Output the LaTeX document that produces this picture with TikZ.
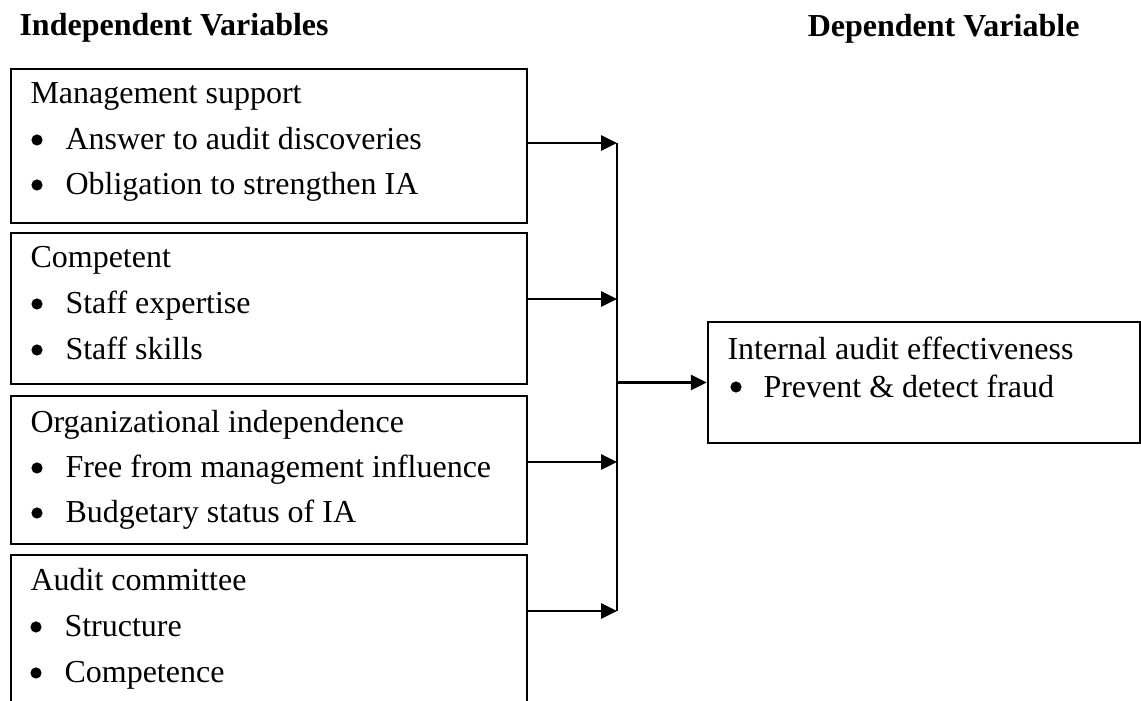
\documentclass[tikz,border=0pt]{standalone}
\usepackage{fontspec}
\setmainfont{Liberation Serif}
\usetikzlibrary{arrows.meta,fit}
\begin{document}
\begin{tikzpicture}[x=0.375pt,y=-0.375pt,
  box/.style={draw, line width=0.9pt, inner sep=0pt},
  txt/.style={anchor=base west, inner sep=0pt, font=\fontsize{12}{14}\selectfont},
  ttl/.style={inner sep=0pt, font=\fontsize{12}{14}\selectfont\bfseries},
  bul/.style={circle, fill, inner sep=0pt, minimum size=4.2pt},
  arr/.style={line width=1.1pt, -{Triangle[length=6pt,width=5.6pt]}},
  busline/.style={line width=1.1pt}]
\useasboundingbox (0,0) rectangle (1141,701);
\clip (0,0) rectangle (1141,701);
% titles
\node[ttl, anchor=base west] (tind) at (19,36) {Independent Variables};
\node[ttl, anchor=base east] (tdep) at (1080,37) {Dependent Variable};
% boxes
\node[box, fit={(11,69)(527,223)}] (b1) {};
\node[box, fit={(11,233)(527,384)}] (b2) {};
\node[box, fit={(11,396)(527,544)}] (b3) {};
\node[box, fit={(11,555)(527,730)}] (b4) {};
\node[box, fit={(708,322)(1140,443)}] (dv) {};
% box texts
\node[txt] (b1t) at (30,104) {Management support};
\node[bul] (b1a) at (37,140) {};
\node[txt] (b1at) at (65,150) {Answer to audit discoveries};
\node[bul] (b1b) at (37,185) {};
\node[txt] (b1bt) at (65,195) {Obligation to strengthen IA};
\node[txt] (b2t) at (30,268) {Competent};
\node[bul] (b2a) at (37,304) {};
\node[txt] (b2at) at (65,314) {Staff expertise};
\node[bul] (b2b) at (37,350) {};
\node[txt] (b2bt) at (65,360) {Staff skills};
\node[txt] (b3t) at (30,433) {Organizational independence};
\node[bul] (b3a) at (37,468) {};
\node[txt] (b3at) at (65,478) {Free from management influence};
\node[bul] (b3b) at (37,513) {};
\node[txt] (b3bt) at (65,523) {Budgetary status of IA};
\node[txt] (b4t) at (30,591) {Audit committee};
\node[bul] (b4a) at (36,627) {};
\node[txt] (b4at) at (64,637) {Structure};
\node[bul] (b4b) at (36,673) {};
\node[txt] (b4bt) at (64,683) {Competence};
\node[txt] (dvt) at (727,360) {Internal audit effectiveness};
\node[bul] (dva) at (736,387) {};
\node[txt] (dvat) at (763,398) {Prevent \& detect fraud};
% bus
\coordinate (bus1) at (617,143);
\coordinate (bus2) at (617,299);
\coordinate (bus3) at (617,462);
\coordinate (bus4) at (617,611);
\draw[arr] (b1.east |- bus1) -- (bus1);
\draw[arr] (b2.east |- bus2) -- (bus2);
\draw[arr] (b3.east |- bus3) -- (bus3);
\draw[arr] (b4.east |- bus4) -- (bus4);
\draw[busline] (bus1) -- (bus4);
\draw[arr] (bus1 |- dv.west) -- (dv.west);
\end{tikzpicture}
\end{document}
